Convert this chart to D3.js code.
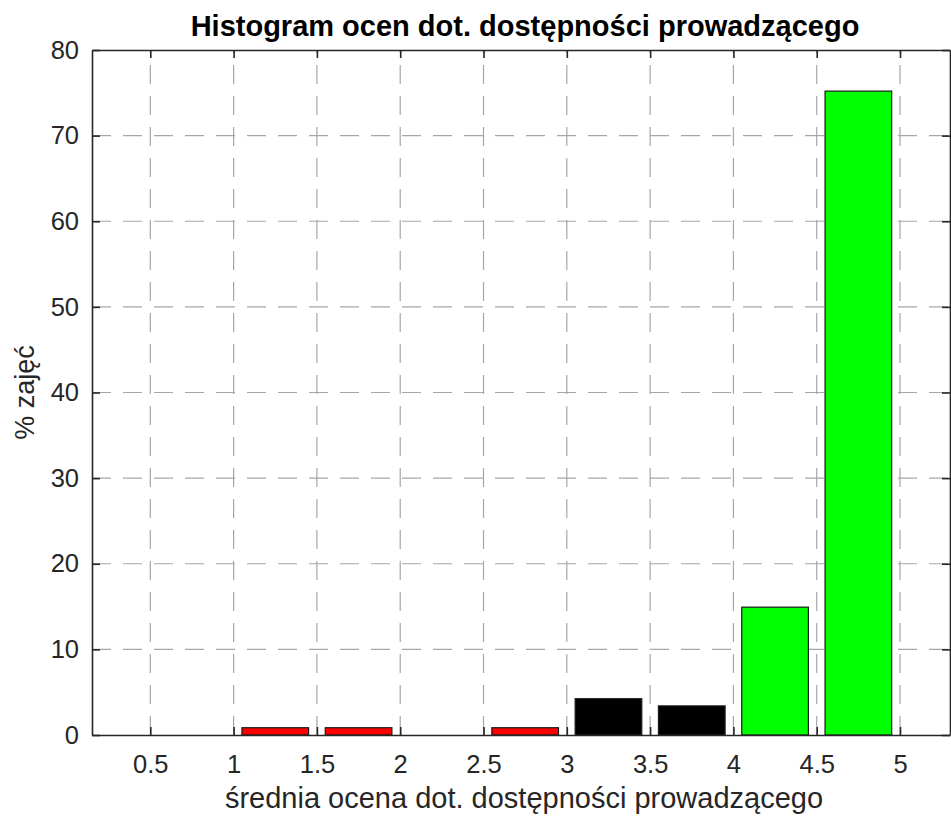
<!DOCTYPE html>
<html>
<head>
<meta charset="utf-8">
<script src="https://cdn.jsdelivr.net/npm/d3@7"></script>
<style>
body{margin:0;background:#fff;}
text{font-family:"Liberation Sans",Arial,Helvetica,sans-serif;}
</style>
</head>
<body>
<svg id="chart" width="951" height="818"></svg>
<script>
const binCenters = [0.25, 0.75, 1.25, 1.75, 2.25, 2.75, 3.25, 3.75, 4.25, 4.75];
const percentValues = [0, 0, 0.85, 0.85, 0, 0.85, 4.24, 3.4, 14.93, 75.2];
const barColors = ["#ff0000","#ff0000","#ff0000","#ff0000","#ff0000","#ff0000","#000000","#000000","#00ff00","#00ff00"];
const xTicks = [0.5, 1, 1.5, 2, 2.5, 3, 3.5, 4, 4.5, 5];
const yTicks = [0, 10, 20, 30, 40, 50, 60, 70, 80];
const titleText = "Histogram ocen dot. dostępności prowadzącego";
const xLabelText = "średnia ocena dot. dostępności prowadzącego";
const yLabelText = "% zajęć";

const svg = d3.select("#chart");
const L = 92, R = 950, T = 50, B = 735;
const x = d3.scaleLinear().domain([0.15, 5.3]).range([L, R]);
const y = d3.scaleLinear().domain([0, 80]).range([B, T]);
const axisColor = "#262626";
const barWidth = 0.4;

// grid
const grid = svg.append("g");
grid.selectAll("line.gx").data(xTicks).join("line")
  .attr("x1", d => x(d)).attr("x2", d => x(d)).attr("y1", B).attr("y2", T)
  .attr("stroke", "#a6a6a6").attr("stroke-width", 1.2).attr("stroke-dasharray", "19,12");
grid.selectAll("line.gy").data(yTicks.slice(1, -1)).join("line")
  .attr("x1", L).attr("x2", R).attr("y1", d => y(d)).attr("y2", d => y(d))
  .attr("stroke", "#a6a6a6").attr("stroke-width", 1.2).attr("stroke-dasharray", "19,12");

// bars
const data = binCenters.map((c, i) => ({c, v: percentValues[i], col: barColors[i]})).filter(d => d.v > 0);
svg.append("g").selectAll("rect").data(data).join("rect")
  .attr("x", d => x(d.c - barWidth / 2))
  .attr("width", d => x(d.c + barWidth / 2) - x(d.c - barWidth / 2))
  .attr("y", d => y(d.v))
  .attr("height", d => y(0) - y(d.v))
  .attr("fill", d => d.col)
  .attr("stroke", "#1a1a1a").attr("stroke-width", 1.2);

// axes
const fs = 25.5;
const xAxis = d3.axisBottom(x).tickValues(xTicks).tickSizeInner(-8).tickSizeOuter(0).tickPadding(20).tickFormat(d3.format("~g"));
const gx = svg.append("g").attr("transform", `translate(0,${B})`).call(xAxis);
const xTop = d3.axisTop(x).tickValues(xTicks).tickSizeInner(-8).tickSizeOuter(0).tickFormat("");
const gxt = svg.append("g").attr("transform", `translate(0,${T})`).call(xTop);
const yAxis = d3.axisLeft(y).tickValues(yTicks).tickSizeInner(-8).tickSizeOuter(0).tickPadding(13);
const gy = svg.append("g").attr("transform", `translate(${L},0)`).call(yAxis);
const yRight = d3.axisRight(y).tickValues(yTicks).tickSizeInner(-8).tickSizeOuter(0).tickFormat("");
const gyr = svg.append("g").attr("transform", `translate(${R},0)`).call(yRight);
[gx, gxt, gy, gyr].forEach(g => {
  g.select(".domain").attr("stroke", axisColor).attr("stroke-width", 1.6);
  g.selectAll(".tick line").attr("stroke", axisColor).attr("stroke-width", 1.6);
  g.selectAll(".tick text").attr("fill", axisColor).style("font-size", fs + "px").style("font-family", '"Liberation Sans",Arial,sans-serif');
});

// title and labels
svg.append("text").attr("x", 525).attr("y", 36).attr("text-anchor", "middle")
  .style("font-size", "29px").style("font-weight", "bold").attr("fill", "#000").text(titleText);
svg.append("text").attr("x", 524).attr("y", 808).attr("text-anchor", "middle")
  .style("font-size", "29px").attr("fill", axisColor).text(xLabelText);
svg.append("text").attr("transform", `translate(34,${(T + B) / 2}) rotate(-90)`).attr("text-anchor", "middle")
  .style("font-size", "27px").attr("fill", axisColor).text(yLabelText);
</script>
</body>
</html>
